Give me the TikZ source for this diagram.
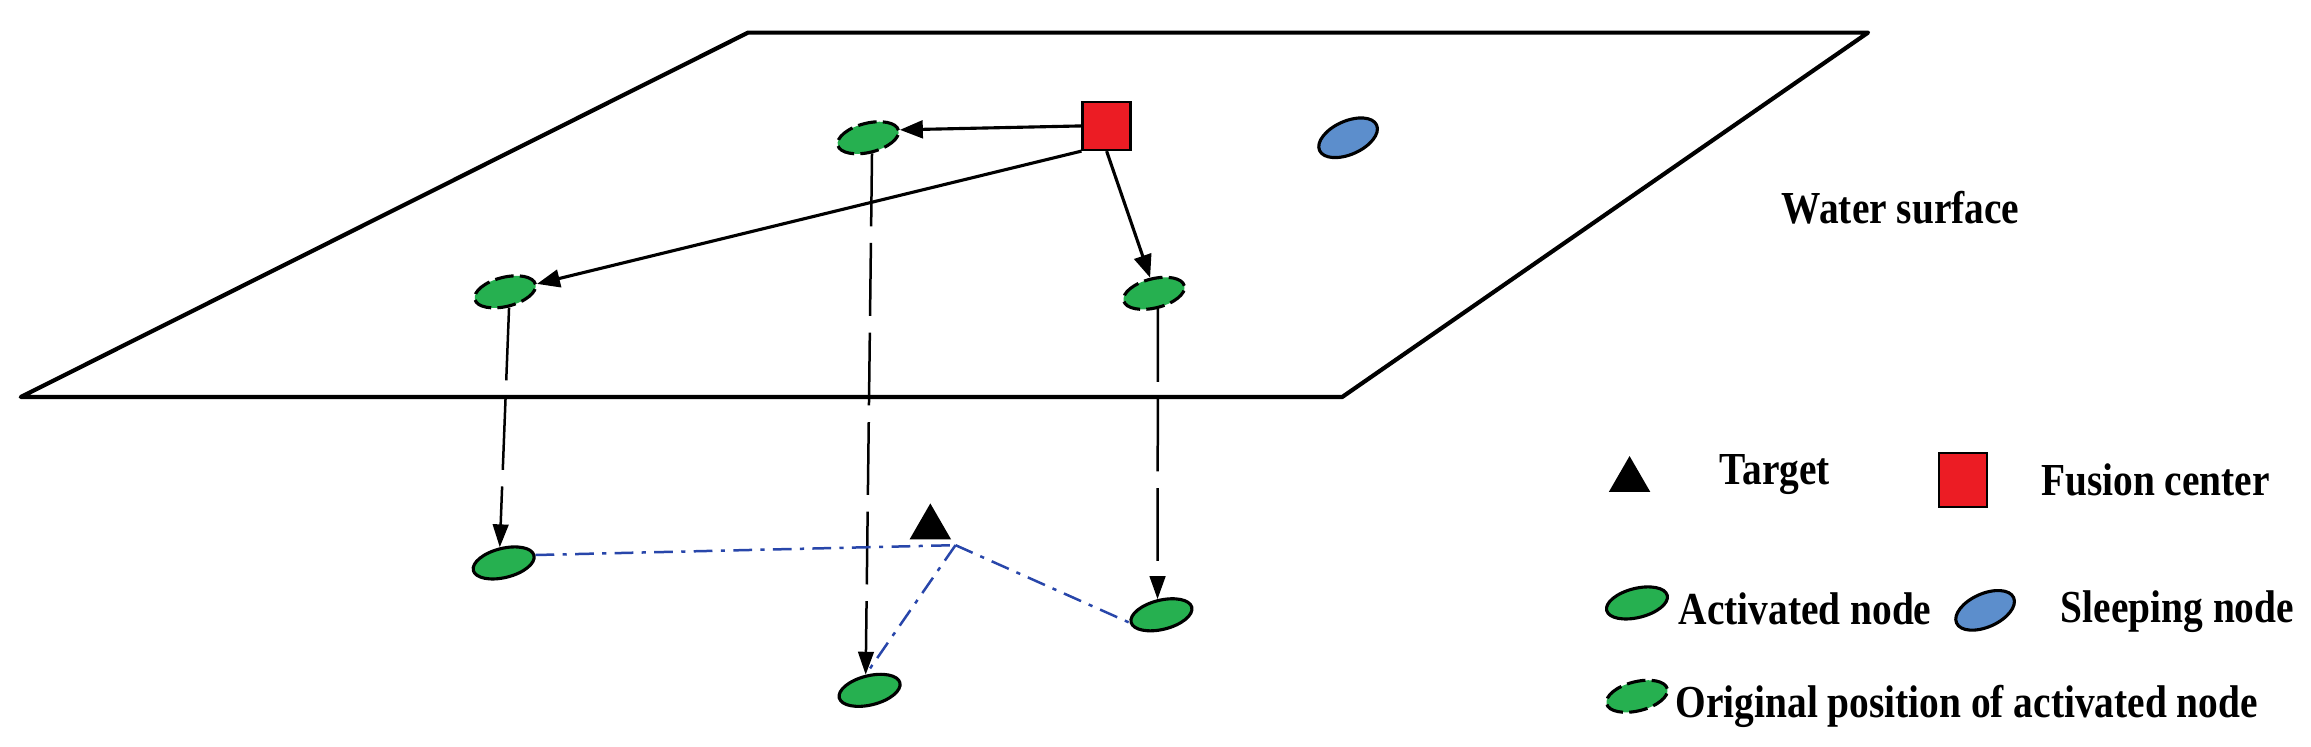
\documentclass[tikz,border=0pt]{standalone}
\usepackage{fontspec}
\setmainfont{Liberation Serif}
\usetikzlibrary{shapes.geometric,arrows.meta}
\definecolor{gn}{RGB}{38,176,80}
\definecolor{bl}{RGB}{92,142,204}
\definecolor{rd}{RGB}{236,28,36}
\definecolor{ln}{RGB}{40,70,170}
\begin{document}
\begin{tikzpicture}[x=0.05cm,y=-0.05cm,
 act/.style={ellipse,draw=black,line width=3pt,fill=gn,minimum width=60,minimum height=28,inner sep=0,rotate=14},
 orig/.style={act,dash pattern=on 18pt off 6pt},
 slp/.style={act,fill=bl,minimum height=32,rotate=10},
 fc/.style={rectangle,draw=black,line width=2.4pt,fill=rd,minimum width=46,minimum height=46,inner sep=0},
 tgt/.style={regular polygon,regular polygon sides=3,fill=black,minimum size=46,inner sep=0},
 arr/.style={-{Triangle[length=22pt,width=17pt]},line width=3pt},
 vd/.style={-{Triangle[length=22pt,width=15pt]},line width=2.4pt,dash pattern=on 70pt off 16pt},
 dd/.style={ln,line width=2.4pt,dash pattern=on 18pt off 8pt on 4pt off 8pt},
 lab/.style={font=\fontsize{44}{44}\selectfont\bfseries,xscale=0.86,inner sep=0}]
\useasboundingbox (0,0) rectangle (1560,504);
\draw[line width=4pt,line join=round] (505,22) -- (1261,22) -- (906,268) -- (14,268) -- cycle;
\node[fc] (fc) at (747,85) {};
\node[slp] (s) at (910,93) {};
\node[orig] (a) at (586,93) {};
\node[orig] (b) at (341,197) {};
\node[orig] (c) at (779,198) {};
\node[act] (d) at (340,380) {};
\node[act] (e) at (587,466) {};
\node[act] (f) at (784,415) {};
\node[tgt] (t) at (628,356) {};
\coordinate (tp) at (645,368);
\draw[arr] (fc.west) -- (a.east);
\draw[arr] (fc.south west) -- (b.east);
\draw[arr] (fc.south) -- (c.north);
\draw[vd] (a.south) -- (e.north);
\draw[vd] (b.south) -- (d.north);
\draw[vd] (c.south) -- (f.north);
\draw[dd] (d.east) -- (tp);
\draw[dd] (tp) -- (f.west);
\draw[dd] (tp) -- (e.north);
\node[lab] (ws) at (1283,140) {Water surface};
\node[tgt] (lt) at (1100,324) {};
\node[lab] (lt1) at (1198,320) {Target};
\node[fc,minimum height=52] (lf) at (1325,324) {};
\node[lab] (lf1) at (1455,324) {Fusion center};
\node[act] (la) at (1105,407) {};
\node[lab,anchor=west] (la1) at (1133,411) {Activated node};
\node[slp] (ls) at (1340,412) {};
\node[lab,anchor=west] (ls1) at (1391,413) {Sleeping node};
\node[orig] (lo) at (1105,470) {};
\node[lab,anchor=west] (lo1) at (1131,477) {Original position of activated node};
\end{tikzpicture}
\end{document}
